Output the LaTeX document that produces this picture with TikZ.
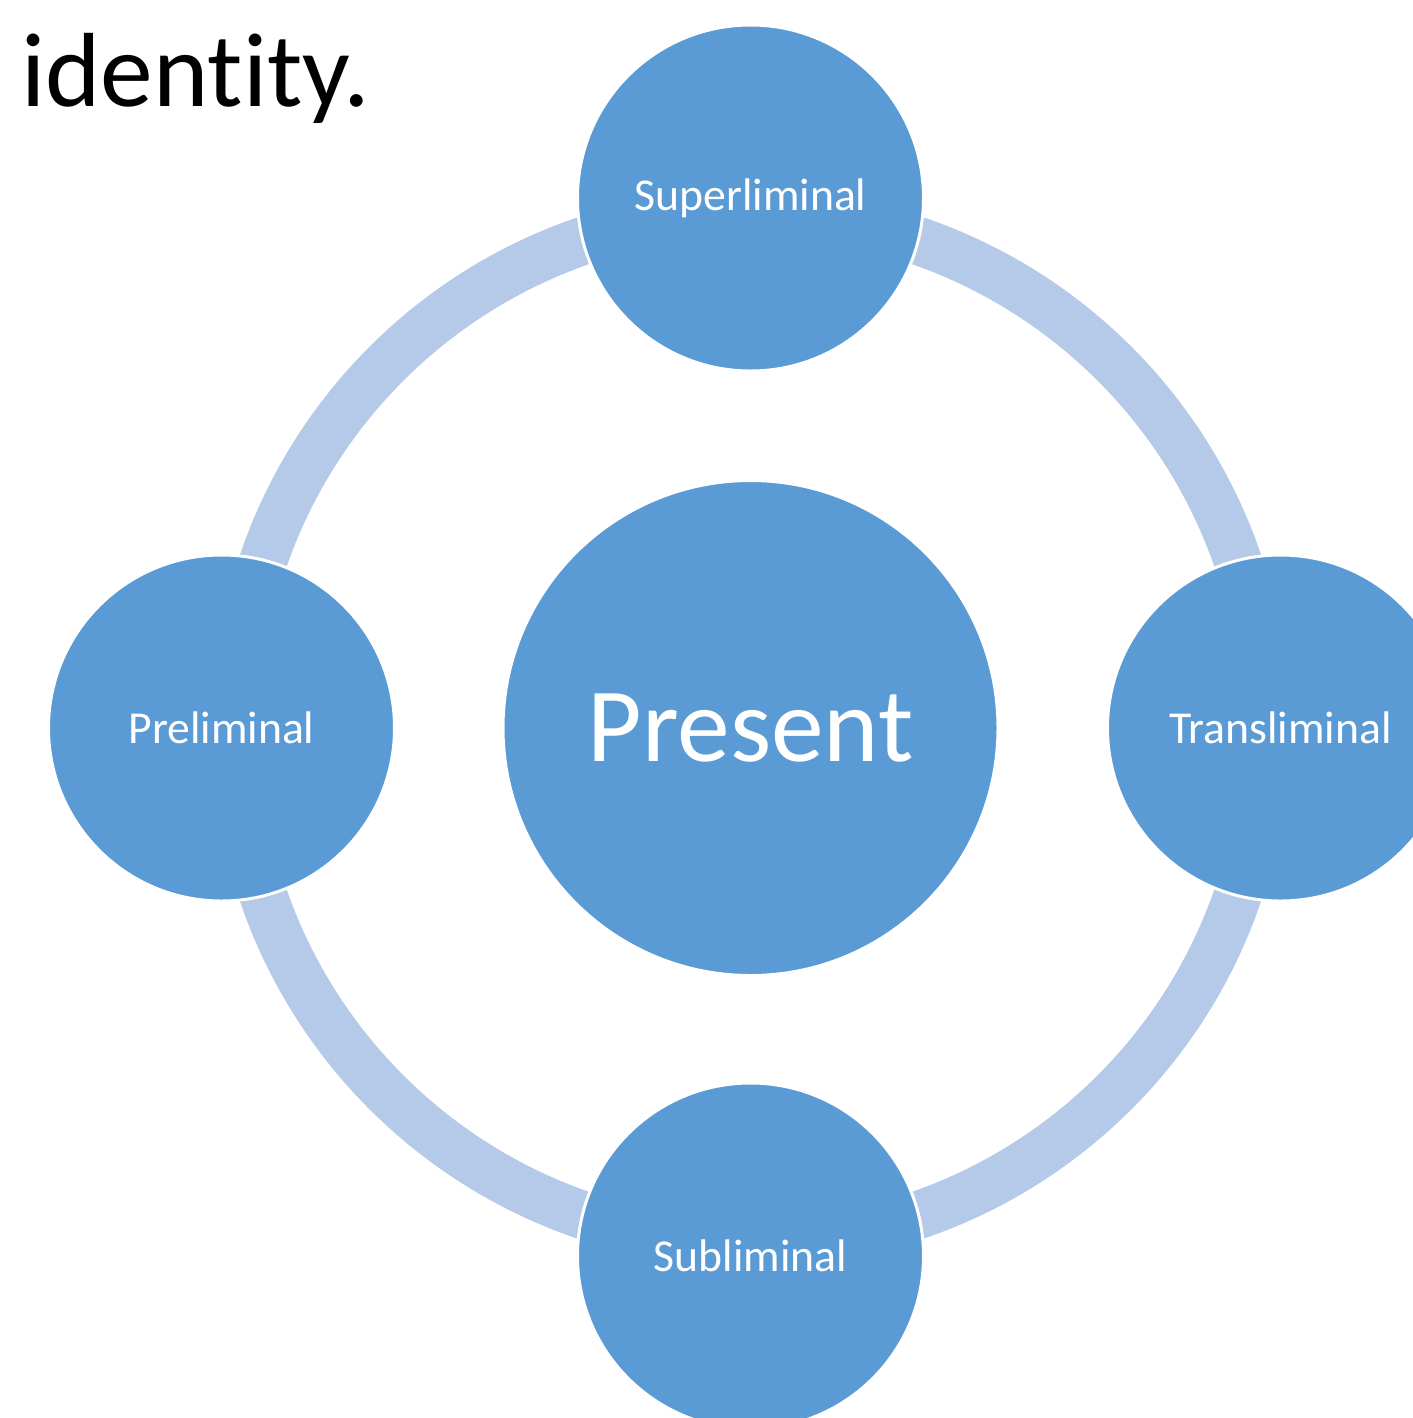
\documentclass[tikz,border=0pt]{standalone}
\usepackage{fontspec}
\setmainfont{Carlito}[Ligatures=NoCommon]
\usepackage{tikz}
\usetikzlibrary{positioning, calc}
\definecolor{circleFg}{RGB}{255, 255, 255}
\definecolor{circleBg}{RGB}{91, 155, 213}
\definecolor{ringBg}{RGB}{181, 202, 232}
\tikzstyle{ring} = [draw=ringBg, line width=0.96cm]
\tikzstyle{basic} = [circle, inner sep=0pt, text centered, draw=circleFg, line width=1.7pt, fill=circleBg, text=circleFg]
\tikzstyle{hub} = [basic, minimum size=9.9cm, font=\fontsize{60}{70}\selectfont]
\tikzstyle{phase} = [basic, minimum size=6.92cm, font=\fontsize{26}{32}\selectfont]

\begin{document}
\begin{tikzpicture}

\useasboundingbox (0,0) rectangle (28.26cm,-28.36cm);

\node (present) [hub] at(15.01cm,-14.56cm) {Present};
\draw [ring] (present.center) circle[radius=10.3cm];

\node (super) [phase, yshift=10.6cm] at(present.center) {Superliminal};
\node (trans) [phase, xshift=10.6cm] at(present.center) {Transliminal};
\node (sub) [phase, yshift=-10.56cm] at(present.center) {Subliminal};
\node (pre) [phase, xshift=-10.58cm] at(present.center) {Preliminal};

\node (title) [anchor=base west, inner sep=0pt, font=\fontsize{60}{68}\selectfont] at(0.42cm,-2.12cm) {identity.};

\end{tikzpicture}
\end{document}
